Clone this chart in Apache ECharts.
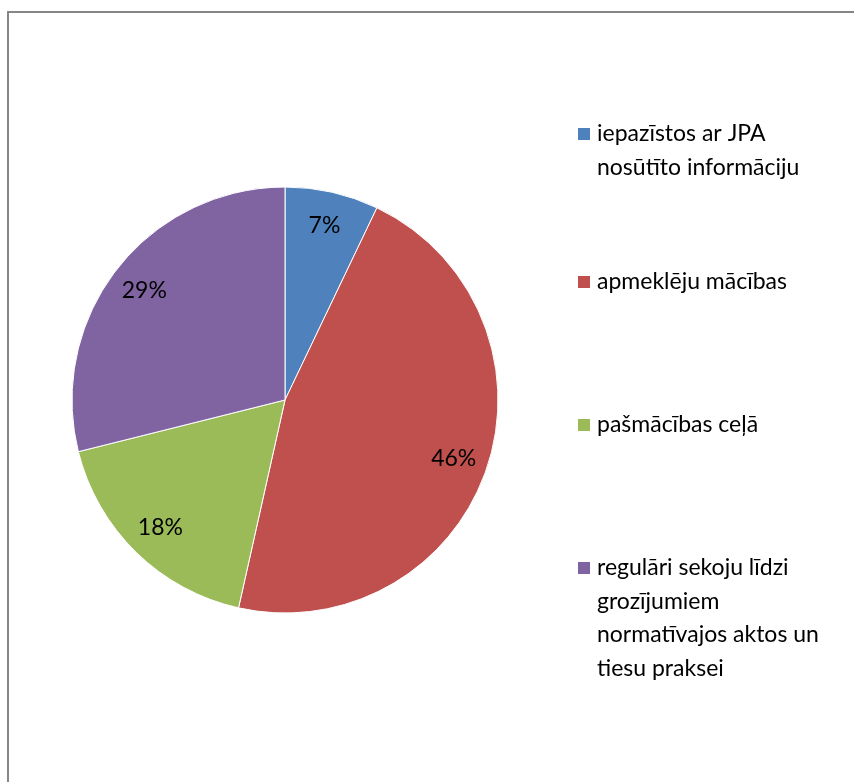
<!DOCTYPE html>
<html>
<head>
<meta charset="utf-8">
<script src="https://cdn.jsdelivr.net/npm/echarts@6/dist/echarts.min.js"></script>
<style>
html,body{margin:0;padding:0;background:#fff;}
#main{width:854px;height:782px;}
</style>
</head>
<body>
<div id="main"></div>
<script>
const categories = [
  'iepazīstos ar JPA\nnosūtīto informāciju',
  'apmeklēju mācības',
  'pašmācības ceļā',
  'regulāri sekoju līdzi\ngrozījumiem\nnormatīvajos aktos un\ntiesu praksei'
];
const values = [7.1, 46.4, 17.6, 28.9];
const colors = ['#4F81BD', '#C0504D', '#9BBB59', '#8064A2'];
const legendFirstLineY = [134, 282, 425, 568];

const FONT = 'Lato, "Open Sans", sans-serif';
const LH = 33.5;
const data = categories.map((c, i) => ({ name: c, value: values[i], itemStyle: { color: colors[i] } }));

const legends = categories.map((c, i) => {
  const n = c.split('\n').length;
  const blanks = '\n'.repeat(n - 1);
  return {
    show: true,
    left: 576,
    top: legendFirstLineY[i] - (2 * n - 1) * LH / 2,
    padding: 0,
    orient: 'vertical',
    icon: 'rect',
    itemWidth: 14,
    itemHeight: 14,
    itemGap: 0,
    selectedMode: false,
    data: [c],
    formatter: name => blanks + name,
    textStyle: { fontFamily: FONT, fontSize: 23, color: '#000', lineHeight: LH, padding: [0, 0, 0, 1] }
  };
});

const chart = echarts.init(document.getElementById('main'));
chart.setOption({
  animation: false,
  backgroundColor: '#fff',
  graphic: [{
    type: 'rect',
    shape: { x: 8, y: 12, width: 1000, height: 1000 },
    style: { fill: 'none', stroke: '#868686', lineWidth: 2 },
    silent: true
  }],
  legend: legends,
  series: [{
    type: 'pie',
    center: [285, 400],
    radius: [0, 213],
    startAngle: 90,
    clockwise: true,
    data: data,
    label: { show: false },
    labelLine: { show: false },
    itemStyle: { borderColor: '#ffffff', borderWidth: 1 },
    emphasis: { disabled: true }
  }, {
    type: 'pie',
    center: [285, 400],
    radius: [138, 213],
    startAngle: 90,
    clockwise: true,
    silent: true,
    data: categories.map((c, i) => ({ name: c + ' ', value: values[i] })),
    itemStyle: { color: 'rgba(0,0,0,0)' },
    label: {
      show: true,
      position: 'inside',
      formatter: p => Math.round(p.percent) + '%',
      fontFamily: FONT,
      fontSize: 23,
      color: '#000'
    },
    labelLine: { show: false },
    emphasis: { disabled: true }
  }]
});
</script>
</body>
</html>
